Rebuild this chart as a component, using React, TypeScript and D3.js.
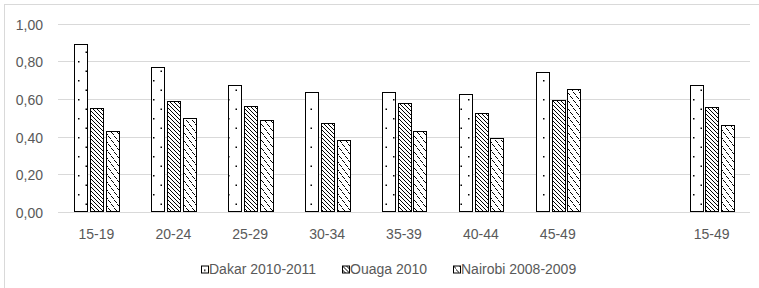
import React, { useEffect } from 'react'
import * as d3 from 'd3'

const categories = ['15-19', '20-24', '25-29', '30-34', '35-39', '40-44', '45-49', '', '15-49']
const seriesNames = ['Dakar 2010-2011', 'Ouaga 2010', 'Nairobi 2008-2009']
const dakar = [0.895, 0.769, 0.673, 0.64, 0.635, 0.625, 0.745, null, 0.675]
const ouaga = [0.553, 0.591, 0.56, 0.47, 0.58, 0.525, 0.595, null, 0.556]
const nairobi = [0.43, 0.499, 0.49, 0.38, 0.43, 0.39, 0.655, null, 0.461]
const yTicks = [0, 0.2, 0.4, 0.6, 0.8, 1.0]

const WIDTH = 759
const HEIGHT = 288
const plot = { left: 58, right: 750, top: 24, bottom: 211.5 }
const textColor = '#595959'
const font = '"Liberation Sans", Arial, sans-serif'
const patterns = ['pat-dots', 'pat-hatch', 'pat-dash']

const App = () => {
    useEffect(() => {
        document.body.style.margin = '0'
    }, [])

    const series = [dakar, ouaga, nairobi]

    const xScale = d3
        .scaleBand()
        .domain(categories.map((c, i) => String(i)))
        .range([plot.left, plot.right])

    const inner = d3
        .scaleBand()
        .domain(seriesNames)
        .range([0, xScale.bandwidth()])
        .paddingInner(0.2)
        .paddingOuter(1.05)

    const yScale = d3.scaleLinear().domain([0, 1]).range([plot.bottom, plot.top])

    // legend layout
    const legendX = [201, 342, 453]

    return (
        <svg width={WIDTH} height={HEIGHT} style={{ display: 'block' }}>
            <defs>
                <pattern id="pat-dots" patternUnits="userSpaceOnUse" width={15} height={19}>
                    <rect width={15} height={19} fill="#fff" />
                    <rect x={3} y={4} width={1.5} height={1.5} fill="#000" />
                    <rect x={10.5} y={13.5} width={1.5} height={1.5} fill="#000" />
                </pattern>
                <pattern id="pat-hatch" patternUnits="userSpaceOnUse" width={4} height={4}>
                    <rect width={4} height={4} fill="#fff" />
                    <path d="M-1,-1 L5,5 M3,-1 L5,1 M-1,3 L1,5" stroke="#000" strokeWidth={1} />
                </pattern>
                <pattern id="pat-dash" patternUnits="userSpaceOnUse" width={6} height={8}>
                    <rect width={6} height={8} fill="#fff" />
                    <path d="M0,0 L3,3 M3,4 L6,7" stroke="#000" strokeWidth={1} />
                </pattern>
            </defs>

            <rect x={4.5} y={4.5} width={800} height={400} fill="#fff" stroke="#d9d9d9" />

            {/* grid + y axis labels */}
            {yTicks.map(t => {
                const y = Math.round(yScale(t)) + 0.5
                return (
                    <g key={t}>
                        <line x1={plot.left} x2={plot.right} y1={y} y2={y} stroke="#d9d9d9" strokeWidth={1} />
                        <text x={43} y={y + 5} fontSize={14} fill={textColor} fontFamily={font} textAnchor="end">
                            {t.toFixed(2).replace('.', ',')}
                        </text>
                    </g>
                )
            })}

            {/* bars */}
            {categories.map((c, i) => {
                const x0 = xScale(String(i))!
                return (
                    <g key={i}>
                        {series.map((s, k) => {
                            const v = s[i]
                            if (v == null) return null
                            const x = Math.round(x0 + inner(seriesNames[k])!) + 0.5
                            const y = Math.round(yScale(v)) + 0.5
                            return (
                                <rect
                                    key={k}
                                    x={x}
                                    y={y}
                                    width={Math.round(inner.bandwidth())}
                                    height={plot.bottom - y}
                                    fill={`url(#${patterns[k]})`}
                                    stroke="#000"
                                    strokeWidth={1}
                                />
                            )
                        })}
                        <text
                            x={x0 + xScale.bandwidth() / 2}
                            y={238.5}
                            fontSize={14}
                            fill={textColor}
                            fontFamily={font}
                            textAnchor="middle"
                        >
                            {c}
                        </text>
                    </g>
                )
            })}

            {/* baseline */}
            <line x1={plot.left} x2={plot.right} y1={Math.round(plot.bottom) + 0.5} y2={Math.round(plot.bottom) + 0.5} stroke="#d9d9d9" />

            {/* legend */}
            {seriesNames.map((name, k) => (
                <g key={name} transform={`translate(${legendX[k]},${265.5})`}>
                    <rect x={0.5} y={0.5} width={7} height={7} fill={`url(#${patterns[k]})`} stroke="#000" />
                    <text x={8} y={8} fontSize={14} fill={textColor} fontFamily={font}>
                        {name}
                    </text>
                </g>
            ))}
        </svg>
    )
}

export default App
